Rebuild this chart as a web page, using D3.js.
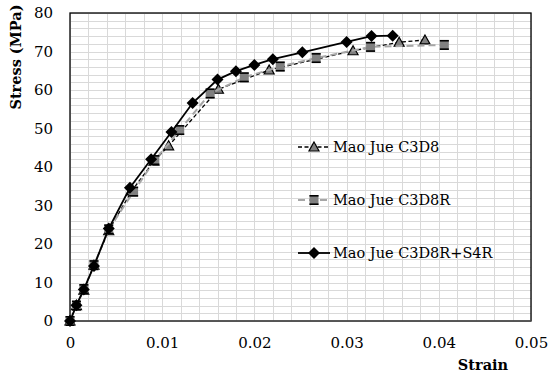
<!DOCTYPE html>
<html>
<head>
<meta charset="utf-8">
<script src="https://cdn.jsdelivr.net/npm/d3@7"></script>
<style>
  body { margin: 0; background: #fff; }
  svg text { font-family: "DejaVu Serif", "Liberation Serif", serif; fill: #000; }
</style>
</head>
<body>
<div id="chart"></div>
<script>

// Mao Jue C3D8 (triangles, black dashed)
const c3d8Strain = [0, 0.0007, 0.0015, 0.0026, 0.0042, 0.0067, 0.0091, 0.0107, 0.0161, 0.0216, 0.0307, 0.0357, 0.0385];
const c3d8Stress = [0, 4.0, 8.0, 14.5, 23.5, 33.8, 41.5, 45.5, 60.2, 65.2, 70.2, 72.4, 73.0];

// Mao Jue C3D8R (squares, grey dashed)
const c3d8rStrain = [0, 0.0007, 0.0015, 0.0026, 0.0042, 0.0069, 0.0092, 0.0119, 0.0152, 0.0189, 0.0228, 0.0267, 0.0326, 0.0406];
const c3d8rStress = [0, 4.0, 8.3, 14.5, 23.8, 33.6, 41.8, 49.6, 59.1, 63.3, 66.1, 68.3, 71.2, 71.7];

// Mao Jue C3D8R+S4R (diamonds, solid black)
const s4rStrain = [0, 0.0007, 0.0015, 0.0026, 0.0042, 0.0065, 0.0088, 0.0110, 0.0133, 0.0160, 0.0180, 0.0200, 0.0220, 0.0252, 0.0300, 0.0327, 0.0350];
const s4rStress = [0, 4.1, 8.2, 14.3, 24.0, 34.6, 42.0, 49.1, 56.6, 62.7, 64.9, 66.5, 68.0, 69.8, 72.5, 74.0, 74.1];

const xTicks = [0, 0.01, 0.02, 0.03, 0.04, 0.05];
const yTicks = [0, 10, 20, 30, 40, 50, 60, 70, 80];

const seriesNames = ['Mao Jue C3D8', 'Mao Jue C3D8R', 'Mao Jue C3D8R+S4R'];

const width  = 550,
      height = 378,
      margin = { top: 13, right: 19, bottom: 57, left: 70 };

const fontFamily = '"DejaVu Serif", "Liberation Serif", serif';

const svg = d3.select('#chart').append('svg')
  .attr('width', width)
  .attr('height', height);

const x = d3.scaleLinear().domain([0, 0.05]).range([margin.left, width - margin.right]);
const y = d3.scaleLinear().domain([0, 80]).range([height - margin.bottom, margin.top]);

// Grid (minor: 0.002 strain, 2 MPa)

const grid = svg.append('g').attr('stroke', '#d9d9d9').attr('stroke-width', 1);

d3.range(0, 0.0501, 0.002).forEach((v) => {
  grid.append('line')
    .attr('x1', Math.round(x(v)) + 0.5).attr('x2', Math.round(x(v)) + 0.5)
    .attr('y1', y(0)).attr('y2', y(80));
});

d3.range(0, 80.1, 2).forEach((v) => {
  grid.append('line')
    .attr('x1', x(0)).attr('x2', x(0.05))
    .attr('y1', Math.round(y(v)) + 0.5).attr('y2', Math.round(y(v)) + 0.5);
});

// Plot border

svg.append('rect')
  .attr('x', x(0)).attr('y', y(80))
  .attr('width', x(0.05) - x(0)).attr('height', y(0) - y(80))
  .attr('fill', 'none')
  .attr('stroke', '#000')
  .attr('stroke-width', 1.3);

svg.append('line')
  .attr('x1', x(0)).attr('x2', x(0.05))
  .attr('y1', y(0)).attr('y2', y(0))
  .attr('stroke', '#595959').attr('stroke-width', 1.5);

// Axes

const xAxis = svg.append('g')
  .attr('transform', `translate(0,${y(0)})`)
  .call(d3.axisBottom(x).tickValues(xTicks).tickSize(0).tickPadding(16)
    .tickFormat((d) => d === 0 ? '0' : d3.format('.2f')(d)));

const yAxis = svg.append('g')
  .attr('transform', `translate(${x(0)},0)`)
  .call(d3.axisLeft(y).tickValues(yTicks).tickSize(0).tickPadding(17));

[xAxis, yAxis].forEach((ax) => {
  ax.attr('font-family', fontFamily);
  ax.select('.domain').remove();
  ax.selectAll('text')
    .attr('font-size', 15)
    .attr('fill', '#000');
});

svg.append('text')
  .attr('transform', `translate(21,57) rotate(-90)`)
  .attr('text-anchor', 'middle')
  .attr('font-size', 14.5)
  .attr('font-weight', 'bold')
  .text('Stress (MPa)');

svg.append('text')
  .attr('x', 483)
  .attr('y', 370)
  .attr('text-anchor', 'middle')
  .attr('font-size', 14.5)
  .attr('font-weight', 'bold')
  .text('Strain');

// Series

const line = d3.line().x((d) => x(d[0])).y((d) => y(d[1]));

const series = [
  { name: seriesNames[0], data: d3.zip(c3d8Strain, c3d8Stress),   stroke: '#000',    dash: '4,2.5', width: 1.3, marker: 'triangle' },
  { name: seriesNames[1], data: d3.zip(c3d8rStrain, c3d8rStress), stroke: '#a6a6a6', dash: '7,4',   width: 2,   marker: 'square' },
  { name: seriesNames[2], data: d3.zip(s4rStrain, s4rStress),     stroke: '#000',    dash: null,    width: 1.8, marker: 'diamond' }
];

function drawMarker(g, type, cx, cy) {
  if (type === 'triangle') {
    g.append('path')
      .attr('d', `M${cx},${cy - 5}L${cx + 5},${cy + 4}L${cx - 5},${cy + 4}Z`)
      .attr('fill', '#808080').attr('stroke', '#000').attr('stroke-width', 1.2);
  } else if (type === 'square') {
    g.append('rect')
      .attr('x', cx - 4.5).attr('y', cy - 5)
      .attr('width', 9).attr('height', 10)
      .attr('fill', '#808080');
    g.append('line')
      .attr('x1', cx - 4.5).attr('x2', cx + 4.5)
      .attr('y1', cy - 4.2).attr('y2', cy - 4.2)
      .attr('stroke', '#000').attr('stroke-width', 1.6);
    g.append('line')
      .attr('x1', cx - 4.5).attr('x2', cx + 4.5)
      .attr('y1', cy + 4.2).attr('y2', cy + 4.2)
      .attr('stroke', '#000').attr('stroke-width', 1.6);
  } else {
    g.append('path')
      .attr('d', `M${cx},${cy - 6}L${cx + 6},${cy}L${cx},${cy + 6}L${cx - 6},${cy}Z`)
      .attr('fill', '#000');
  }
}

series.forEach((s) => {

  const g = svg.append('g');

  g.append('path')
    .datum(s.data)
    .attr('fill', 'none')
    .attr('stroke', s.stroke)
    .attr('stroke-width', s.width)
    .attr('stroke-dasharray', s.dash)
    .attr('d', line);

  s.data.forEach((d) => drawMarker(g, s.marker, x(d[0]), y(d[1])));

});

// Legend

const legendY = [147, 200, 253];

series.forEach((s, i) => {

  const g = svg.append('g');
  const ly = legendY[i];

  g.append('line')
    .attr('x1', 298).attr('x2', 330)
    .attr('y1', ly).attr('y2', ly)
    .attr('stroke', s.stroke)
    .attr('stroke-width', s.width)
    .attr('stroke-dasharray', s.dash);

  drawMarker(g, s.marker, 314, ly);

  g.append('text')
    .attr('x', 333)
    .attr('y', ly)
    .attr('dy', '0.35em')
    .attr('font-size', 14.5)
    .text(s.name);

});

</script>
</body>
</html>
